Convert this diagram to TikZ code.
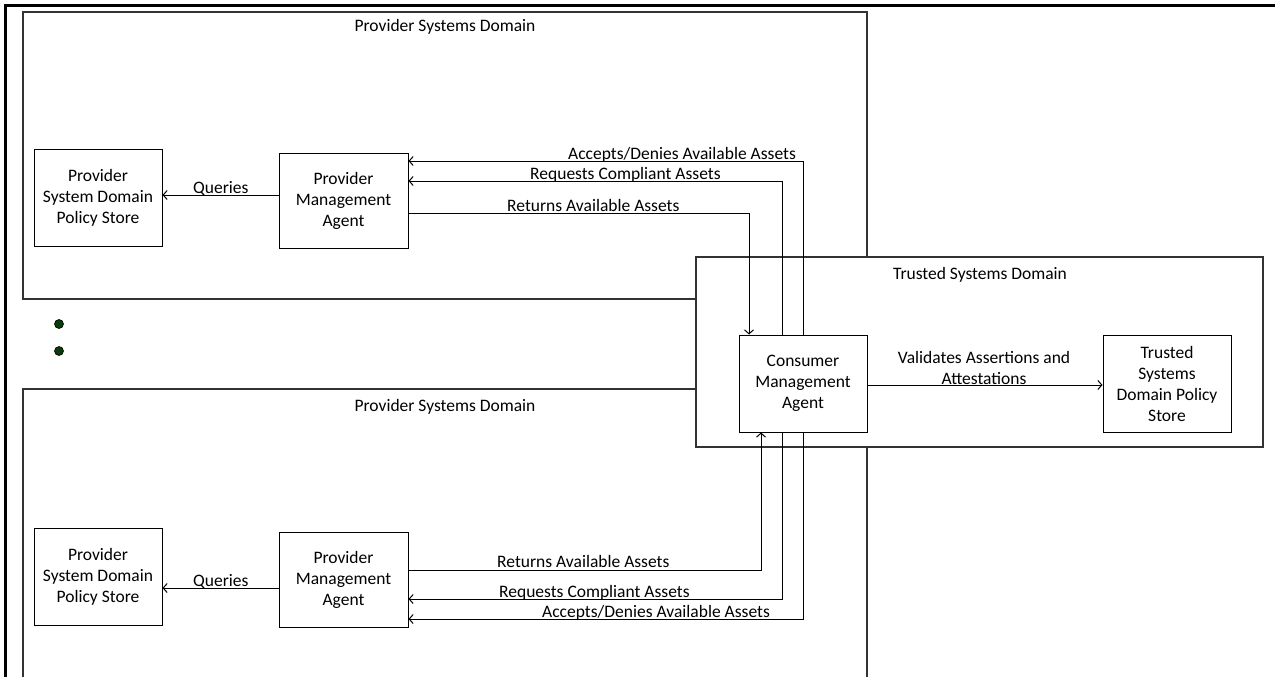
\documentclass[tikz,border=0pt]{standalone}
\usepackage{fontspec}
\setmainfont{Carlito}
\usetikzlibrary{arrows.meta}
\definecolor{dotgreen}{RGB}{10,60,10}
\tikzset{
  box/.style={draw=black, line width=1pt, fill=white, align=center, inner sep=2pt,
    font=\fontsize{17.5}{21}\selectfont},
  domainbox/.style={draw=black!80, line width=1.3pt},
  lbl/.style={inner sep=0pt, font=\fontsize{17.5}{21}\selectfont},
  arr/.style={draw=black, line width=1pt, -{Straight Barb[length=4pt,width=9pt]}},
  outerframe/.style={draw=black, line width=3pt},
  dotmark/.style={circle, fill=dotgreen, draw=black, line width=0.6pt, inner sep=0pt, minimum size=9pt}
}
\begin{document}
\begin{tikzpicture}[x=1pt,y=-1pt]
\useasboundingbox (0,0) rectangle (1275,677);
% outer frame
\draw[outerframe] (5,680) -- (5,6) -- (1278,6);
% provider domains
\draw[domainbox] (23,12) rectangle (867,299);
\draw[domainbox] (23,680) -- (23,389) -- (867,389) -- (867,680);
\node[lbl] (ldomT) at (445,27) {Provider Systems Domain};
\node[lbl] (ldomB) at (445,407) {Provider Systems Domain};
% trusted domain
\draw[domainbox, fill=white] (696,257) rectangle (1263,447);
\node[lbl] (ldomTr) at (980,275) {Trusted Systems Domain};
% dots
\node[dotmark] (d1) at (59,324) {};
\node[dotmark] (d2) at (59,351) {};
% boxes
\node[box, minimum width=128pt, minimum height=97pt] (psdpsT) at (98,197.5) {Provider\\System Domain\\Policy Store};
\node[box, minimum width=129pt, minimum height=95pt] (pmaT) at (343.5,200.5) {Provider\\Management\\Agent};
\node[box, minimum width=128pt, minimum height=97pt] (psdpsB) at (98,576.5) {Provider\\System Domain\\Policy Store};
\node[box, minimum width=129pt, minimum height=95pt] (pmaB) at (343.5,579.5) {Provider\\Management\\Agent};
\node[box, minimum width=128pt, minimum height=97pt] (cma) at (803,383.5) {Consumer\\Management\\Agent};
\node[box, minimum width=128pt, minimum height=97pt] (tsdps) at (1167,383.5) {Trusted\\Systems\\Domain Policy\\Store};
% helper coordinates
\coordinate (yQT) at (0,195);
\coordinate (yAT) at (0,161);
\coordinate (yRqT) at (0,181);
\coordinate (yRtT) at (0,213);
\coordinate (yQB) at (0,588);
\coordinate (yRtB) at (0,570);
\coordinate (yRqB) at (0,599);
\coordinate (yAB) at (0,619);
\coordinate (yV) at (0,385);
\coordinate (xRtT) at (749,0);
\coordinate (xRtB) at (761,0);
\coordinate (xRq) at (782,0);
\coordinate (xA) at (803,0);
% connectors top
\draw[arr] (pmaT.west |- yQT) -- (psdpsT.east |- yQT);
\draw[arr] (pmaT.east |- yRtT) -| (xRtT |- cma.north);
\draw[arr] (xRq |- cma.north) |- (pmaT.east |- yRqT);
\draw[arr] (xA |- cma.north) |- (pmaT.east |- yAT);
% connectors bottom
\draw[arr] (pmaB.west |- yQB) -- (psdpsB.east |- yQB);
\draw[arr] (pmaB.east |- yRtB) -| (xRtB |- cma.south);
\draw[arr] (xRq |- cma.south) |- (pmaB.east |- yRqB);
\draw[arr] (xA |- cma.south) |- (pmaB.east |- yAB);
% validates
\draw[arr] (cma.east |- yV) -- (tsdps.west |- yV);
% labels
\node[lbl, anchor=base west] (lQT) at (193,193) {Queries};
\node[lbl, anchor=base west] (lAT) at (568,159) {Accepts/Denies Available Assets};
\node[lbl, anchor=base west] (lRqT) at (530,179) {Requests Compliant Assets};
\node[lbl, anchor=base west] (lRtT) at (507,211) {Returns Available Assets};
\node[lbl, anchor=base west] (lQB) at (193,586) {Queries};
\node[lbl, anchor=base west] (lRtB) at (497,567) {Returns Available Assets};
\node[lbl, anchor=base west] (lRqB) at (499,597) {Requests Compliant Assets};
\node[lbl, anchor=base west] (lAB) at (542,617) {Accepts/Denies Available Assets};
\node[lbl, align=center, anchor=south] (lV) at (984,385) {Validates Assertions and\\Attestations};
\end{tikzpicture}
\end{document}
